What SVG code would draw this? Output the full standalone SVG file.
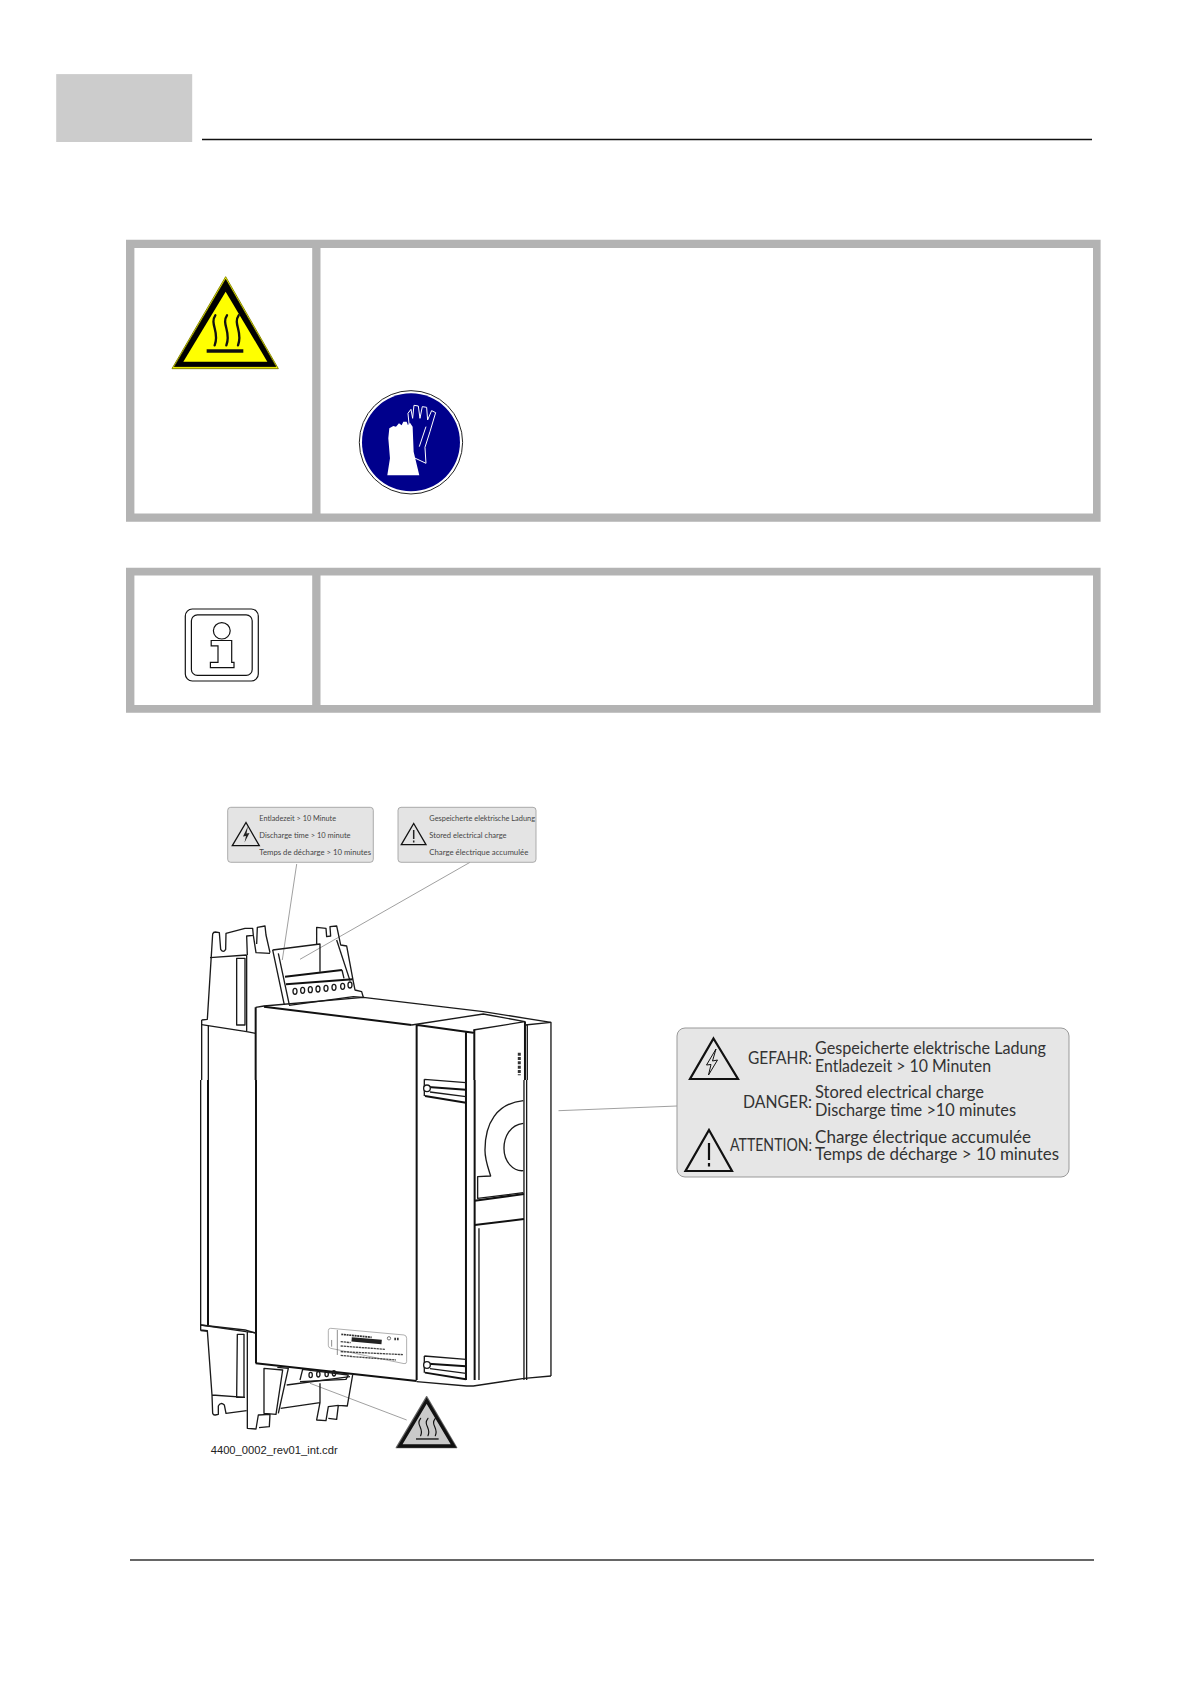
<svg xmlns="http://www.w3.org/2000/svg" width="1190" height="1684" viewBox="0 0 1190 1684">
<style>
.ln{fill:none;stroke:#1a1a1a;stroke-width:4;stroke-linejoin:round}
.th{fill:none;stroke:#111;stroke-width:6}
.wh{fill:#fff;stroke:#1a1a1a;stroke-width:4;stroke-linejoin:round}
.lead{fill:none;stroke:#777;stroke-width:.7}
.lab{fill:#e4e4e4;stroke:#999;stroke-width:.8}
.s{font:8px Lato,"Liberation Sans",sans-serif;fill:#444}
.b{font:17.500px Lato,"Liberation Sans",sans-serif;fill:#333}
.tri{fill:none;stroke:#111;stroke-width:2.200;stroke-linejoin:miter}
</style>
<defs>
<g id="hinge">
<path class="ln" d="M733 828L858 838M733 828V878"/>
<path class="th" d="M745 851L858 859M735 878L858 898"/>
<path class="ln" d="M750 866L858 880"/>
<circle cx="741" cy="855" r="10" class="wh"/>
</g>
</defs>
<rect width="1190" height="1684" fill="#fff"/>

<g id="page-header">
<rect x="56.200" y="74.100" width="136" height="67.900" fill="#ccc"/>
<path d="M202 139.500H1092" stroke="#111" stroke-width="1.300"/>
</g>
<g id="page-footer"><path d="M130 1560H1094" stroke="#333" stroke-width="1.300"/></g>

<g id="warning-box">
<path fill="#b3b3b3" fill-rule="evenodd" d="M126 239.800H1100.600V521.800H126ZM134.400 248V513.600H312.200V248ZM320.500 248V513.600H1093V248Z"/>
<g id="hot-sign" transform="translate(130 250) scale(.3333)">
<path d="M287 80L445 356H126Z" fill="#ffff00" stroke="#8a8a00" stroke-width="3" stroke-linejoin="round"/>
<path d="M287 88L438 350H133Z" fill="#000" stroke="#000" stroke-width="2" stroke-linejoin="round"/>
<path d="M287 125L412 335H160Z" fill="#ffff00"/>
<path d="M230 303H340" stroke="#111" stroke-width="10"/>
<g fill="none" stroke="#111" stroke-width="7" stroke-linecap="round">
<path d="M256 196C238 222 270 245 254 286"/>
<path d="M291 196C273 222 305 245 289 286"/>
<path d="M326 196C308 222 340 245 324 286"/>
</g>
</g>
<g id="glove-sign" transform="translate(130 250) scale(.3333)">
<circle cx="843" cy="577" r="155" fill="#fff" stroke="#222" stroke-width="3"/>
<circle cx="843" cy="577" r="147" fill="#00008c"/>
<path d="M850 622L888 640L885 592L900 545L917 488L905 482L893 510L890 472L877 470L870 505L865 468L852 466L848 505L843 478L834 490L838 530" fill="none" stroke="#fff" stroke-width="3" stroke-linejoin="round"/>
<path d="M868 590L888 530" fill="none" stroke="#fff" stroke-width="3"/>
<path d="M772 676H868L851 605L848 530L840 518L834 526L830 515L820 515L815 526L807 520L798 530L790 528L778 535L775 565L780 625Z" fill="#fff"/>
</g>
</g>

<g id="info-box">
<path fill="#b3b3b3" fill-rule="evenodd" d="M126 567.800H1100.600V712.700H126ZM134.400 575.600V705H312.200V575.600ZM320.500 575.600V705H1093V575.600Z"/>
<g id="info-icon" fill="none" stroke="#111" stroke-width="1.200">
<rect x="185.300" y="609" width="73" height="72" rx="7"/>
<rect x="191.400" y="614.800" width="60.800" height="60.600" rx="6"/>
<ellipse cx="221.800" cy="630.800" rx="8.400" ry="8.200"/>
<path d="M211.200 640.500H231.700V662.300H234V667.600H210.400V662.300H218V645.800H211.200Z"/>
</g>
</g>

<g id="connectors">
<path class="lead" d="M296.700 864L282.300 960"/>
<path class="lead" d="M470 862.300L300 959.300"/>
<path class="lead" d="M558.500 1110.700L677 1106"/>
<path class="lead" d="M310 1383.300L406.700 1420"/>
</g>

<g id="label-left">
<rect class="lab" x="227.700" y="807.300" width="145.600" height="55" rx="3"/>
<path class="tri" style="stroke-width:1.300" d="M246 822.500L259.300 845.700H232.300Z"/>
<path d="M248 826L243 836.500L246 836L244.500 842.500L249.500 833L246.500 833.500Z" fill="#222"/>
<text class="s" x="259.300" y="820.700" textLength="76.700" lengthAdjust="spacingAndGlyphs">Entladezeit &gt; 10 Minute</text>
<text class="s" x="259.300" y="838" textLength="91.300" lengthAdjust="spacingAndGlyphs">Discharge time &gt; 10 minute</text>
<text class="s" x="259.300" y="855.300" textLength="111.700" lengthAdjust="spacingAndGlyphs">Temps de décharge &gt; 10 minutes</text>
</g>
<g id="label-right">
<rect class="lab" x="398" y="807.300" width="138" height="55" rx="3"/>
<path class="tri" style="stroke-width:1.300" d="M413.700 823.500L426 844.700H401.300Z"/>
<path d="M413.700 830V839M413.700 840.500V842.500" stroke="#222" stroke-width="1.500"/>
<text class="s" x="429.300" y="820.700" textLength="105.700" lengthAdjust="spacingAndGlyphs">Gespeicherte elektrische Ladung</text>
<text class="s" x="429.300" y="838" textLength="77.300" lengthAdjust="spacingAndGlyphs">Stored electrical charge</text>
<text class="s" x="429.300" y="855.300" textLength="99" lengthAdjust="spacingAndGlyphs">Charge électrique accumulée</text>
</g>

<g id="device">
<g id="device-top" transform="translate(190 790) scale(.3333)">
<path class="ln" d="M35 690V870M55 705V870M35 690L52 688L68 432Q70 426 76 426L88 428L92 478Q100 490 107 478L108 430L165 415L188 415L190 436L170 438L172 495"/>
<path class="ln" d="M60 503L170 495M35 704L170 725L197 730M170 495V725"/>
<path class="ln" d="M140 505H165V705H140Z"/>
<path class="ln" d="M190 436L198 488L240 490M200 462L202 412L225 408L228 435L240 488M248 480L283 645M265 490L298 645"/>
<path class="ln" d="M248 480L390 462V545M380 464L380 412L408 415L410 440L422 438L420 410L440 408L452 465L470 468L490 575L495 600L515 605L520 622"/>
<path class="ln" d="M440 450L480 572"/>
<path class="th" d="M285 560L456 540M288 583L488 568"/>
<path class="ln" d="M456 540L462 565"/>
<g class="ln">
<ellipse cx="315" cy="604" rx="6" ry="9"/><ellipse cx="338" cy="601" rx="6" ry="9"/><ellipse cx="361" cy="599" rx="6" ry="9"/><ellipse cx="384" cy="597" rx="6" ry="9"/><ellipse cx="408" cy="595" rx="6" ry="9"/><ellipse cx="432" cy="592" rx="6" ry="9"/><ellipse cx="458" cy="589" rx="6" ry="9"/><ellipse cx="480" cy="585" rx="6" ry="9"/>
</g>
<path class="ln" d="M297 646L490 620L520 622"/>
<path class="ln" d="M197 652L222 648L520 622L880 665L1083 697V870"/>
<path class="th" d="M197 652V870M222 650L665 705"/>
<path class="ln" d="M665 705L880 672L1005 695L850 720"/>
<path class="th" d="M682 705L850 728M680 705V870M828 728V870M853 720V870M1005 695V870"/>
<path class="ln" d="M1012 705V870M1005 705L1083 697"/>
<path stroke="#333" stroke-width="9" stroke-dasharray="9 4" d="M988 788V856" fill="none"/>
</g>
<g id="device-mid" transform="translate(180 1080) scale(.3333)">
<path class="ln" d="M62 0V735M1032 0V900M1040 0V900M1113 0V888"/>
<path class="th" d="M84 0V735M228 0V850M710 0V900M858 0V900M884 0V900"/>
<path class="ln" d="M62 735L195 750L228 760M62 752L84 754"/>
<path class="ln" d="M1030 62C950 70 915 130 915 210C915 240 925 265 932 288L893 290V355L1030 338"/>
<path class="ln" d="M1030 130C990 135 972 170 972 205C972 245 1000 275 1030 272"/>
<path class="th" d="M884 362L1032 342M884 435L1032 417"/>
<path class="ln" d="M897 445V900"/>
<use href="#hinge"/>
<use href="#hinge" y="-830"/>
<g id="nameplate">
<path d="M452 745L672 765Q680 766 680 775V845Q680 852 672 851L452 805Q445 803 445 796V752Q445 745 452 745Z" fill="#fff" stroke="#888" stroke-width="2"/>
<path d="M472 750V825M455 780V800" stroke="#555" stroke-width="2"/>
<path d="M484 763L575 772" stroke="#333" stroke-width="5" stroke-dasharray="6 2"/>
<path d="M515 778L605 786" stroke="#222" stroke-width="13"/>
<path d="M482 785L512 788M482 798L615 808M482 815L670 824M482 826L520 830M520 830L648 840" stroke="#444" stroke-width="4" stroke-dasharray="7 2"/>
<circle cx="627" cy="775" r="5" fill="none" stroke="#333" stroke-width="2"/>
<path d="M643 777H657" stroke="#333" stroke-width="7" stroke-dasharray="5 3"/>
</g>
</g>
<g id="device-bottom" transform="translate(190 1280) scale(.3333)">
<path class="ln" d="M32 135V150L52 152L66 345L68 400Q70 406 76 405L85 403V378Q92 365 103 375L108 400L170 392M32 135L168 155L195 158M66 345L165 352"/>
<path class="ln" d="M142 163H162V352H140Z"/>
<path class="ln" d="M172 155V445L198 447L205 405L240 403L238 440L207 443"/>
<path class="ln" d="M222 265V400L258 403L278 270Z"/>
<path class="ln" d="M262 262L295 265L265 400"/>
<path class="th" d="M197 250L680 303"/>
<path class="ln" d="M680 305L830 318H850L1003 295L1083 288"/>
<path class="ln" d="M330 300L338 268L475 285L468 298L330 305"/>
<g class="ln"><ellipse cx="362" cy="285" rx="5" ry="8"/><ellipse cx="385" cy="283" rx="5" ry="8"/><ellipse cx="410" cy="282" rx="5" ry="8"/><ellipse cx="432" cy="280" rx="5" ry="8"/></g>
<path class="ln" d="M290 315L480 290M272 385L390 368L380 420L408 422L415 380L445 376L440 418L415 415M488 285L472 378L445 376M390 310V368"/>
</g>
</g>

<g id="hot-label" transform="translate(190 1280) scale(.3333)">
<path d="M710 350L800 503H619Z" fill="#c9c9c9" stroke="#666" stroke-width="4" stroke-linejoin="round"/>
<path d="M710 362L791 498H629Z" fill="none" stroke="#111" stroke-width="10" stroke-linejoin="miter"/>
<path d="M678 477H746" stroke="#111" stroke-width="4"/>
<g fill="none" stroke="#111" stroke-width="3.500" stroke-linecap="round">
<path d="M692 415C676 435 703 445 692 467"/>
<path d="M714 415C698 435 725 445 714 467"/>
<path d="M736 415C720 435 747 445 736 467"/>
</g>
</g>

<g id="big-label">
<rect x="677" y="1028" width="392" height="149" rx="8" fill="#e6e6e6" stroke="#999" stroke-width="1"/>
<path class="tri" d="M713.500 1038.500L738 1079H690Z"/>
<path d="M716 1049L706.500 1065L711 1064.500L708.500 1075L717.500 1060L712.500 1061Z" fill="none" stroke="#111" stroke-width="1"/>
<path class="tri" d="M709 1130L732 1171H685.500Z"/>
<path d="M709 1143V1160M709 1163V1166.500" stroke="#111" stroke-width="2.200"/>
<text class="b" x="748" y="1064" textLength="64" lengthAdjust="spacingAndGlyphs">GEFAHR:</text>
<text class="b" x="743" y="1107.500" textLength="69" lengthAdjust="spacingAndGlyphs">DANGER:</text>
<text class="b" x="730" y="1151" textLength="82" lengthAdjust="spacingAndGlyphs">ATTENTION:</text>
<text class="b" x="815" y="1054" textLength="231" lengthAdjust="spacingAndGlyphs">Gespeicherte elektrische Ladung</text>
<text class="b" x="815" y="1072" textLength="176" lengthAdjust="spacingAndGlyphs">Entladezeit &gt; 10 Minuten</text>
<text class="b" x="815" y="1098" textLength="169" lengthAdjust="spacingAndGlyphs">Stored electrical charge</text>
<text class="b" x="815" y="1116" textLength="201" lengthAdjust="spacingAndGlyphs">Discharge time &gt;10 minutes</text>
<text class="b" x="815" y="1143" textLength="216" lengthAdjust="spacingAndGlyphs">Charge électrique accumulée</text>
<text class="b" x="815" y="1160" textLength="244" lengthAdjust="spacingAndGlyphs">Temps de décharge &gt; 10 minutes</text>
</g>

<text id="drawing-ref" x="210.700" y="1454" font-family="Liberation Sans, Arial, sans-serif" font-size="11.200" fill="#222" textLength="127" lengthAdjust="spacingAndGlyphs">4400_0002_rev01_int.cdr</text>
</svg>
